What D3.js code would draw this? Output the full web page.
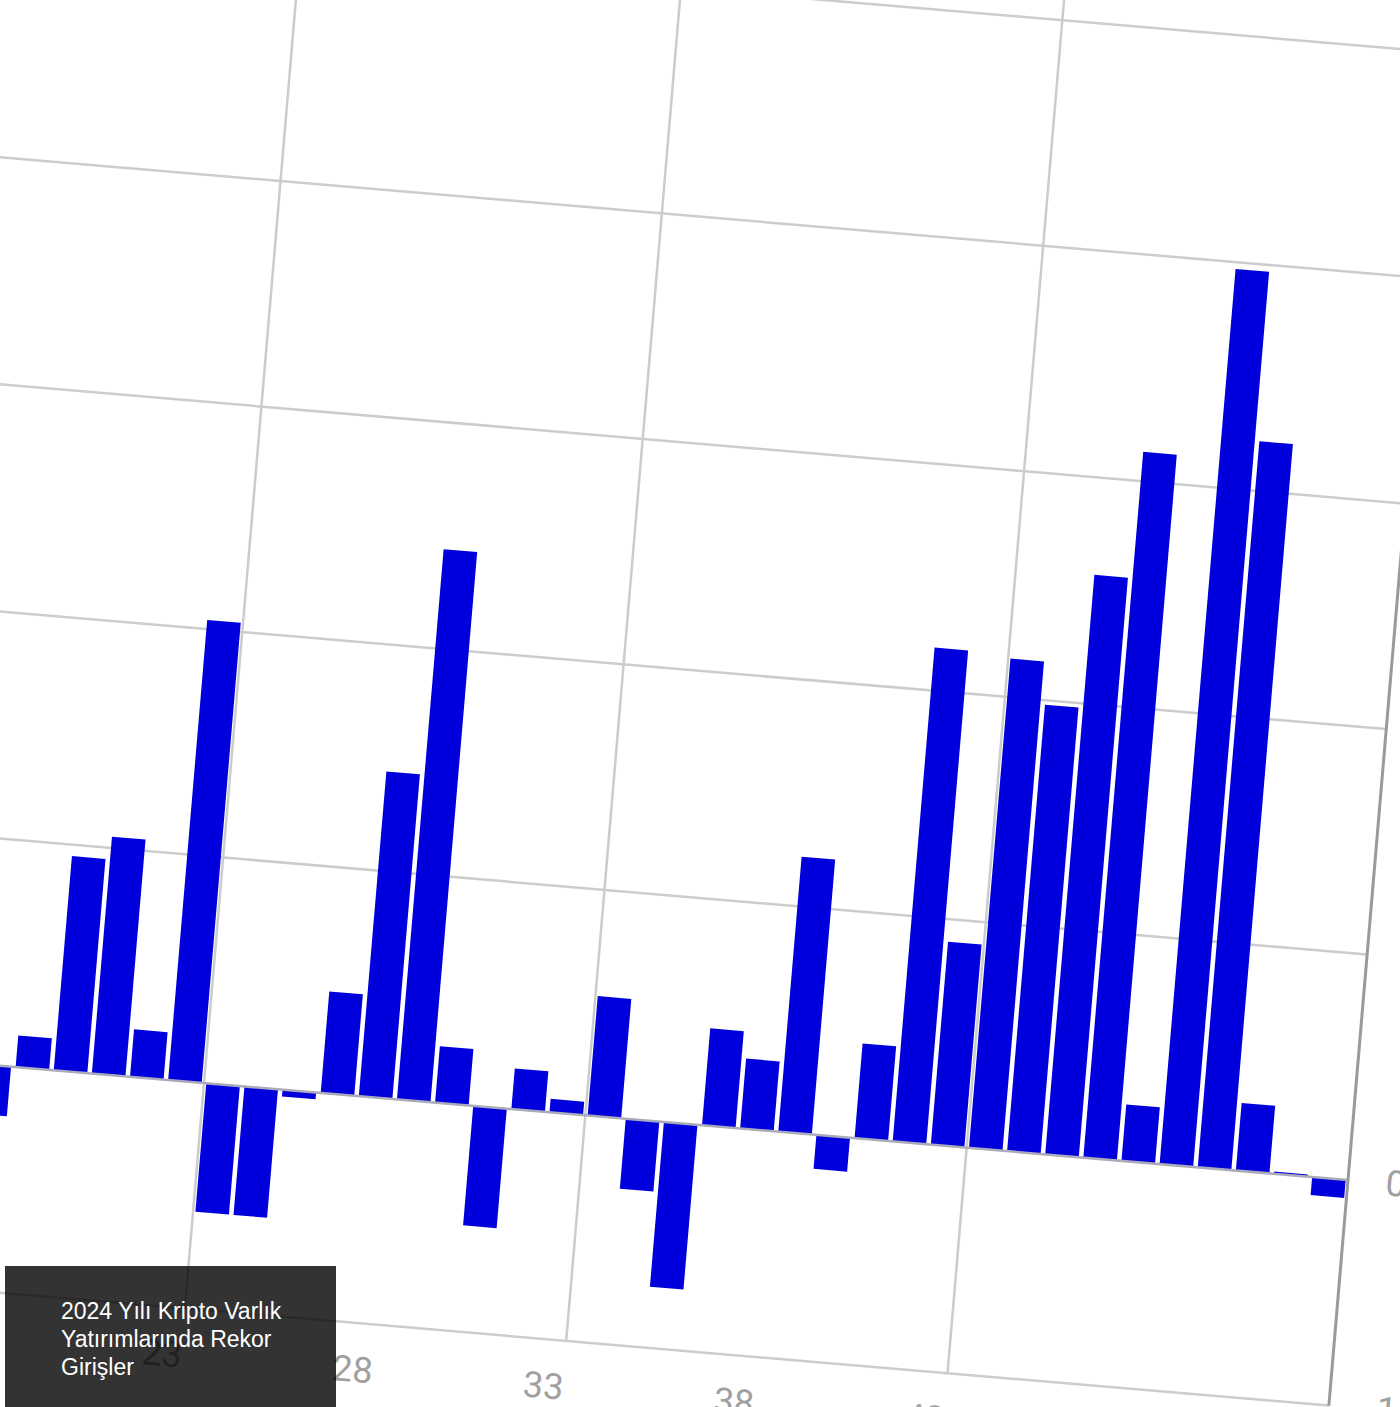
<!DOCTYPE html>
<html>
<head>
<meta charset="utf-8">
<script src="https://cdn.jsdelivr.net/npm/d3@7"></script>
<style>
  html, body { margin: 0; padding: 0; background: #fff; overflow: hidden; }
  svg { display: block; }
</style>
</head>
<body>
<svg id="chart" width="1400" height="1407"></svg>
<script>
// ---- data ----
const weeks = [18,19,20,21,22,23,24,25,26,27,28,29,30,31,32,33,34,35,36,37,38,39,40,41,42,43,44,45,46,47,48,49,50,51,52,53];
const flows = [-0.22,0.14,0.95,1.05,0.21,2.04,-0.57,-0.57,-0.03,0.45,1.44,2.44,0.25,-0.53,0.18,0.06,0.53,-0.31,-0.73,0.43,0.31,1.22,-0.15,0.42,2.19,0.90,2.17,1.98,2.57,3.13,0.25,3.97,3.22,0.30,0.01,-0.08];
const xTickLabels = [23,28,33,38,43];
const yGrid = [-1,0,1,2,3,4,5];
const yTickLabels = [-1,0];
const xGridAt = [3.5,13.5,23.5,33.5,43.5];
const titleLines = ["2024 Yılı Kripto Varlık", "Yatırımlarında Rekor", "Girişler"];

// ---- layout ----
const svg = d3.select("#chart");
const barStep = 38.27, unit = 226.3, angle = 4.85;
const xMin = 0.5, xMax = 53.5;
const x = d3.scaleLinear().domain([23.5, 53.5]).range([0, 30 * barStep]);
const y = d3.scaleLinear().domain([0, 5]).range([0, -5 * unit]);

const g = svg.append("g").attr("transform", `translate(204,1083) rotate(${angle})`);

// horizontal gridlines
g.selectAll("line.hgrid").data(yGrid.filter(d => d !== 0)).join("line")
  .attr("x1", x(xMin)).attr("x2", x(xMax))
  .attr("y1", d => y(d)).attr("y2", d => y(d))
  .attr("stroke", "#cccccc").attr("stroke-width", 2.5);

// vertical gridlines
g.selectAll("line.vgrid").data(xGridAt).join("line")
  .attr("x1", d => x(d)).attr("x2", d => x(d))
  .attr("y1", y(-1)).attr("y2", y(6.5))
  .attr("stroke", "#cccccc").attr("stroke-width", 2.5);

// bars
const half = 0.44;
g.selectAll("rect.bar").data(weeks.map((w, i) => ({w, v: flows[i]}))).join("rect")
  .attr("x", d => x(d.w - half))
  .attr("width", d => x(d.w + half) - x(d.w - half))
  .attr("y", d => Math.min(y(d.v), y(0)))
  .attr("height", d => Math.abs(y(d.v) - y(0)))
  .attr("fill", "#0000dc");

// zero line
g.append("line")
  .attr("x1", x(xMin)).attr("x2", x(xMax))
  .attr("y1", y(0)).attr("y2", y(0))
  .attr("stroke", "#aaaabb").attr("stroke-width", 2.5);

// right axis line
g.append("line")
  .attr("x1", x(xMax)).attr("x2", x(xMax))
  .attr("y1", y(-1)).attr("y2", y(6.5))
  .attr("stroke", "#9a9a9a").attr("stroke-width", 3);

// x tick labels
g.selectAll("text.xl").data(xTickLabels).join("text")
  .attr("x", d => x(d)).attr("y", y(-1) + 47)
  .attr("text-anchor", "middle").attr("dominant-baseline", "central")
  .attr("font-family", "Roboto, sans-serif").attr("font-size", 36)
  .attr("fill", "#a0a0a0")
  .text(d => d);

// y tick labels (right side)
g.selectAll("text.yl").data(yTickLabels).join("text")
  .attr("x", x(xMax) + 38).attr("y", d => y(d))
  .attr("text-anchor", "start").attr("dominant-baseline", "central")
  .attr("font-family", "Roboto, sans-serif").attr("font-size", 36)
  .attr("fill", "#a0a0a0")
  .text(d => d);

// title box (unrotated overlay)
svg.append("rect")
  .attr("x", 5).attr("y", 1266).attr("width", 331).attr("height", 160)
  .attr("fill", "rgba(0,0,0,0.8)");
svg.append("g").selectAll("text").data(titleLines).join("text")
  .attr("x", 61).attr("y", (d, i) => 1319 + i * 28)
  .attr("font-family", "'Liberation Sans', Arial, sans-serif").attr("font-size", 23)
  .attr("fill", "#ffffff")
  .text(d => d);
</script>
</body>
</html>
